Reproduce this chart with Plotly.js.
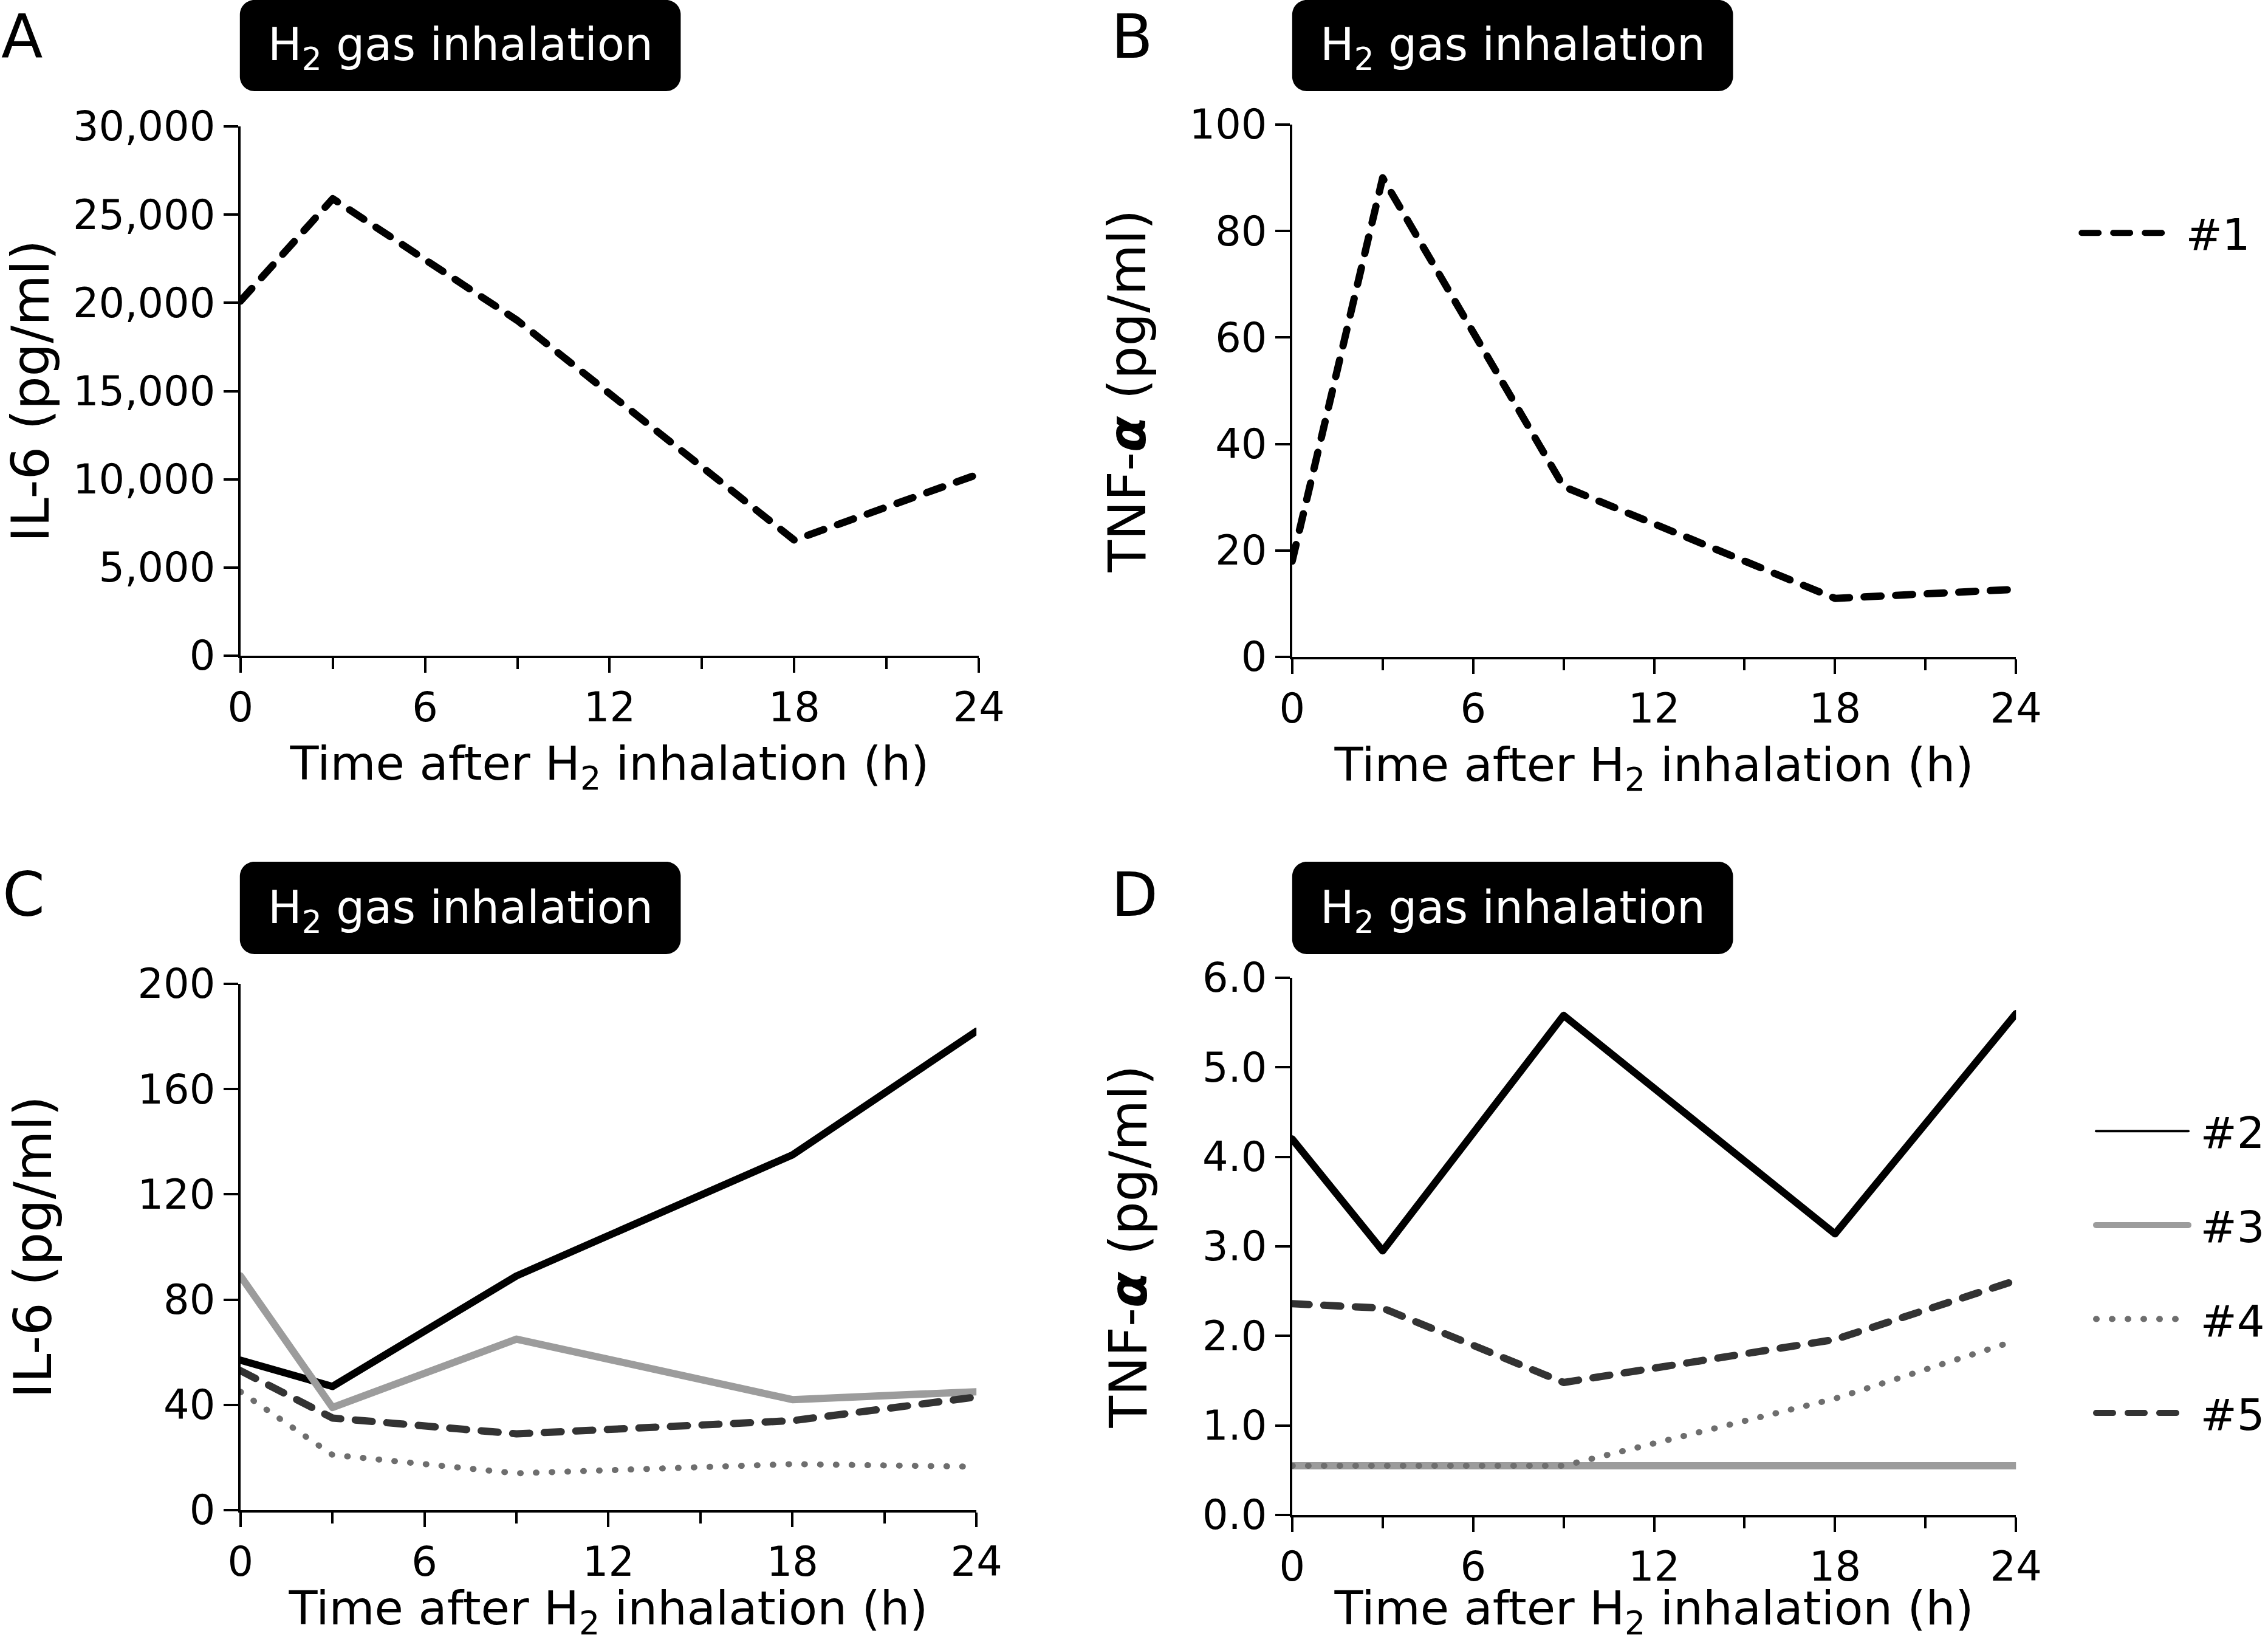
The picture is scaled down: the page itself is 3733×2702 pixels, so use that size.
<!DOCTYPE html>
<html><head><meta charset="utf-8">
<script src="https://cdn.plot.ly/plotly-3.0.1.min.js"></script>
<style>
html,body{margin:0;padding:0;background:#fff;}
#chart{width:3733px;height:2702px;}
.js-line{stroke-linecap:round !important;stroke-linejoin:round !important;}
</style></head><body><div id="chart"></div>
<script>
// ---- data ----
const hours = [0, 3, 9, 18, 24];
const il6Patient1 = [20100, 25900, 19000, 6550, 10300];
const tnfPatient1 = [18, 90, 32, 11, 12.7];
const il6Patient2 = [57, 47, 89, 135, 182];
const il6Patient3 = [89, 39, 65, 42, 45];
const il6Patient4 = [45, 21, 14, 17.5, 16.5];
const il6Patient5 = [53, 35, 29, 34, 43];
const tnfPatient2 = [4.2, 2.95, 5.58, 3.14, 5.6];
const tnfPatient3 = [0.55, 0.55, 0.55, 0.55, 0.55];
const tnfPatient4 = [0.55, 0.55, 0.55, 1.3, 1.95];
const tnfPatient5 = [2.36, 2.31, 1.48, 1.96, 2.62];
const xTicks = [0, 6, 12, 18, 24];
const yTicksA = [0, 5000, 10000, 15000, 20000, 25000, 30000];
const yTicksB = [0, 20, 40, 60, 80, 100];
const yTicksC = [0, 40, 80, 120, 160, 200];
const yTicksD = [0, 1, 2, 3, 4, 5, 6];
const seriesNames = ['#1', '#2', '#3', '#4', '#5'];
const panelLetters = ['A', 'B', 'C', 'D'];
const boxLabel = 'H<sub>2</sub> gas inhalation';
const xTitle = 'Time after H<sub>2</sub> inhalation (h)';
const il6Title = 'IL-6 (pg/ml)';
const tnfTitle = 'TNF-<b><i>α</i></b> (pg/ml)';

// ---- layout helpers ----
const W = 3733, H = 2702;
const FX = v => v / W, FY = v => 1 - v / H;
const FONT = 'DejaVu Sans, Verdana, sans-serif';

function xAxis(x0, x1, anchor, standoff) {
  return {
    domain: [FX(x0), FX(x1)], anchor: anchor, range: [0, 24],
    tickmode: 'array', tickvals: xTicks,
    ticks: 'outside', ticklen: 24, tickwidth: 4, tickcolor: '#000',
    showline: true, linewidth: 4, linecolor: '#000',
    showgrid: false, zeroline: false,
    tickfont: {size: 67, color: '#000'},
    minor: {dtick: 3, tick0: 0, ticks: 'outside', ticklen: 18, tickwidth: 4, tickcolor: '#000', showgrid: false},
    title: {text: xTitle, font: {size: 77, color: '#000'}, standoff: standoff},
    fixedrange: true
  };
}
function yAxis(y0, y1, anchor, range, ticks, fmt, title, standoff) {
  return {
    domain: [FY(y1), FY(y0)], anchor: anchor, range: range,
    tickmode: 'array', tickvals: ticks, tickformat: fmt,
    ticks: 'outside', ticklen: 24, tickwidth: 4, tickcolor: '#000',
    showline: true, linewidth: 4, linecolor: '#000',
    showgrid: false, zeroline: false,
    tickfont: {size: 67, color: '#000'},
    title: {text: title, font: {size: 86, color: '#000'}, standoff: standoff},
    fixedrange: true
  };
}
function roundRect(x0, y0, x1, y1, r) {
  const k = 0.55 * r;
  const P = (x, y) => FX(x) + ',' + FY(y);
  return 'M' + P(x0 + r, y0) + ' L' + P(x1 - r, y0) +
    ' C' + P(x1 - r + k, y0) + ' ' + P(x1, y0 + r - k) + ' ' + P(x1, y0 + r) +
    ' L' + P(x1, y1 - r) +
    ' C' + P(x1, y1 - r + k) + ' ' + P(x1 - r + k, y1) + ' ' + P(x1 - r, y1) +
    ' L' + P(x0 + r, y1) +
    ' C' + P(x0 + r - k, y1) + ' ' + P(x0, y1 - r + k) + ' ' + P(x0, y1 - r) +
    ' L' + P(x0, y0 + r) +
    ' C' + P(x0, y0 + r - k) + ' ' + P(x0 + r - k, y0) + ' ' + P(x0 + r, y0) + ' Z';
}

const DASH = '28px,24px', DOT = '1px,25px';
const GAP = '\u2009';
function tr(y, xa, ya, name, color, width, dash, legend) {
  return {
    type: 'scatter', mode: 'lines', x: hours, y: y, xaxis: xa, yaxis: ya,
    name: GAP + name, line: {color: color, width: width, dash: dash},
    cliponaxis: false, hoverinfo: 'skip',
    showlegend: !!legend, legend: legend || 'legend', legendgroup: legend ? name : undefined
  };
}
// legend-only entry for #2 (the original key draws #2 with a thin line)
const legendOnly2 = {
  type: 'scatter', mode: 'lines', x: [null], y: [null], xaxis: 'x4', yaxis: 'y4',
  name: GAP + seriesNames[1], line: {color: '#000', width: 4},
  showlegend: true, legend: 'legend2', legendgroup: seriesNames[1], hoverinfo: 'skip'
};

const data = [
  tr(il6Patient1, 'x', 'y', seriesNames[0], '#000', 12, DASH, null),
  tr(tnfPatient1, 'x2', 'y2', seriesNames[0], '#000', 12, DASH, 'legend'),
  tr(il6Patient2, 'x3', 'y3', seriesNames[1], '#000', 12, 'solid', null),
  tr(il6Patient3, 'x3', 'y3', seriesNames[2], '#9c9c9c', 12, 'solid', null),
  tr(il6Patient4, 'x3', 'y3', seriesNames[3], '#6e6e6e', 10, DOT, null),
  tr(il6Patient5, 'x3', 'y3', seriesNames[4], '#333', 12, DASH, null),
  tr(tnfPatient2, 'x4', 'y4', seriesNames[1], '#000', 12, 'solid', null),
  legendOnly2,
  tr(tnfPatient3, 'x4', 'y4', seriesNames[2], '#9c9c9c', 12, 'solid', 'legend2'),
  tr(tnfPatient4, 'x4', 'y4', seriesNames[3], '#6e6e6e', 10, DOT, 'legend2'),
  tr(tnfPatient5, 'x4', 'y4', seriesNames[4], '#333', 12, DASH, 'legend2')
];

const boxes = [[395, 0, 1121, 150], [2128, 0, 2854, 150], [395, 1418, 1121, 1570], [2128, 1418, 2854, 1570]];
const letterPos = [[0, 60], [1828, 60], [2, 1472], [1828, 1472]];
const shapes = boxes.map(b => ({type: 'path', xref: 'paper', yref: 'paper', path: roundRect(b[0], b[1], b[2], b[3], 24), fillcolor: '#000', line: {width: 0}, layer: 'above'}));
const annotations = [];
boxes.forEach(b => annotations.push({xref: 'paper', yref: 'paper', x: FX((b[0] + b[2]) / 2), y: FY((b[1] + b[3]) / 2 + 4), text: boxLabel, showarrow: false, xanchor: 'center', yanchor: 'middle', font: {size: 74, color: '#fff'}}));
panelLetters.forEach((l, i) => annotations.push({xref: 'paper', yref: 'paper', x: FX(letterPos[i][0]), y: FY(letterPos[i][1]), text: l, showarrow: false, xanchor: 'left', yanchor: 'middle', font: {size: 100, color: '#000'}}));

const layout = {
  width: W, height: H, margin: {l: 0, r: 0, t: 0, b: 0},
  paper_bgcolor: '#fff', plot_bgcolor: '#fff',
  font: {family: FONT, color: '#000'},
  xaxis: xAxis(396, 1612, 'y', 28),
  yaxis: yAxis(208, 1079, 'x', [0, 30000], yTicksA, ',d', il6Title, 24),
  xaxis2: xAxis(2128, 3320, 'y2', 28),
  yaxis2: yAxis(205, 1081, 'x2', [0, 100], yTicksB, 'd', tnfTitle, 44),
  xaxis3: xAxis(396, 1608, 'y3', 34),
  yaxis3: yAxis(1619, 2485, 'x3', [0, 200], yTicksC, 'd', il6Title, 114),
  xaxis4: xAxis(2128, 3320, 'y4', 34),
  yaxis4: yAxis(1609, 2493, 'x4', [0, 6], yTicksD, '.1f', tnfTitle, 64),
  legend: {x: FX(3423), y: FY(330), xanchor: 'left', yanchor: 'top', font: {size: 72, color: '#000'}, itemwidth: 152, bgcolor: 'rgba(0,0,0,0)', borderwidth: 0},
  legend2: {x: FX(3447), y: FY(1808), xanchor: 'left', yanchor: 'top', font: {size: 72, color: '#000'}, itemwidth: 152, bgcolor: 'rgba(0,0,0,0)', borderwidth: 0, tracegroupgap: 58},
  shapes: shapes, annotations: annotations,
  hovermode: false
};
Plotly.newPlot('chart', data, layout, {displayModeBar: false, staticPlot: true});
</script></body></html>
